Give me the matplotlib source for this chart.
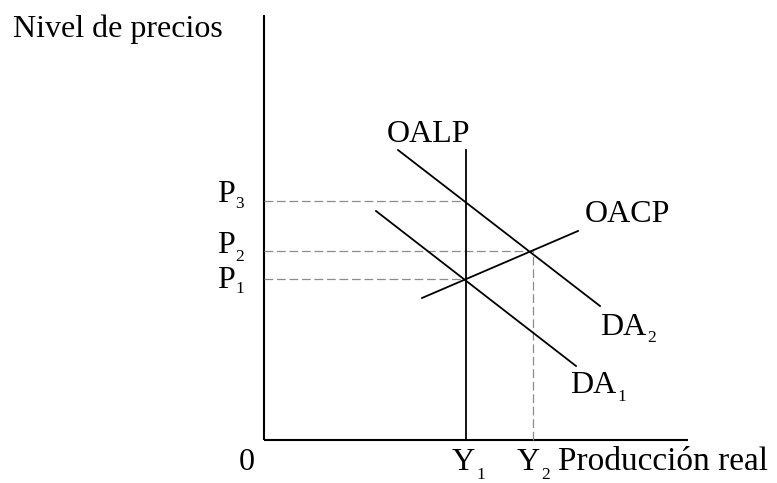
import matplotlib
matplotlib.use("Agg")
import matplotlib.pyplot as plt

plt.rcParams['font.family'] = ['Liberation Serif', 'DejaVu Serif']

# Key levels (arbitrary diagram units)
Y1, Y2 = 202, 269
P1, P2, P3 = 161, 189, 239
x_axis_end, y_axis_top = 424, 425

# Curves: (x0, y0) -> (x1, y1)
DA1_x = [112, 312]; DA1_y = [229, 74]
DA2_x = [134, 336]; DA2_y = [290, 134]
OACP_x = [158, 314]; OACP_y = [142, 209]
OALP_x = [Y1, Y1]; OALP_y = [0, 290]

# Labels: (main text, subscript, x, y, sub_x, sub_y)
labels = [
    ('P', '1', -47, 152, -29, 147),
    ('P', '2', -47, 187, -29, 179),
    ('P', '3', -47, 238, -29, 232),
    ('Y', '1', 188, -30, 212, -39),
    ('Y', '2', 253, -30, 277, -39),
    ('DA', '2', 336, 105, 383, 98),
    ('DA', '1', 306, 47, 353, 39),
]

fig = plt.figure(figsize=(7.77, 4.83), dpi=100)
ax = fig.add_axes([0, 0, 1, 1])
ax.set_xlim(-264, 513)
ax.set_ylim(-43, 440)
ax.axis('off')

fs = 23
sfs = 12.5
# axes
ax.plot([0, 0], [0, y_axis_top], color='black', lw=1.5, solid_capstyle='butt')
ax.plot([0, x_axis_end], [0, 0], color='black', lw=1.5, solid_capstyle='butt')

dash = dict(color='#8c8c8c', lw=0.9, linestyle=(0, (7, 3)))
ax.plot([0, Y1], [P3, P3], **dash)
ax.plot([0, Y2], [P2, P2], **dash)
ax.plot([0, Y1], [P1, P1], **dash)
ax.plot([Y2, Y2], [0, P2], **dash)

line = dict(color='black', lw=1.3)
ax.plot(DA1_x, DA1_y, **line)
ax.plot(DA2_x, DA2_y, **line)
ax.plot(OACP_x, OACP_y, **line)
ax.plot(OALP_x, OALP_y, **line)

txt = dict(fontsize=fs, va='baseline', ha='left')
ax.text(-251, 403, 'Nivel de precios', **txt)
ax.text(-17, -30, '0', fontsize=fs, va='baseline', ha='center')
ax.text(294, -30, 'Producción real', fontsize=24, va='baseline', ha='left')
ax.text(123, 298, 'OALP', **txt)
ax.text(321, 218, 'OACP', **txt)
for main, sub, x, y, sx, sy in labels:
    ax.text(x, y, main, **txt)
    ax.text(sx, sy, sub, fontsize=sfs, va='baseline', ha='left')

fig.savefig('out.png', dpi=100)
